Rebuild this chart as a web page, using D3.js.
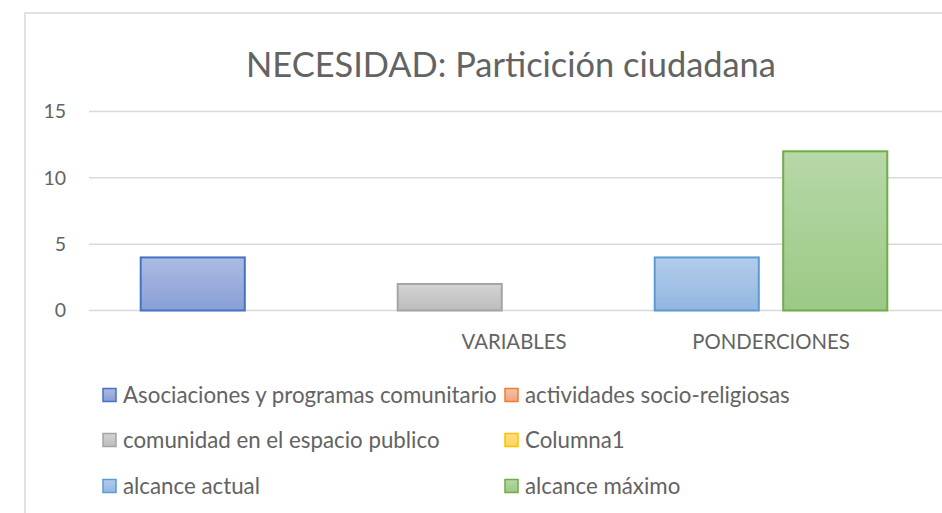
<!DOCTYPE html>
<html><head><meta charset="utf-8">
<script src="https://cdn.jsdelivr.net/npm/d3@7"></script>
<style>body{margin:0;background:#fff}svg{display:block}text{font-family:Lato,"Open Sans",sans-serif;fill:#636363}</style>
</head><body>
<svg id="c" width="942" height="513"></svg>
<script>
const title = "NECESIDAD: Particición ciudadana";
const categories = ["", "VARIABLES", "PONDERCIONES"];
const seriesNames = ["Asociaciones y programas comunitario","actividades socio-religiosas","comunidad en el espacio publico","Columna1","alcance actual","alcance máximo"];
const seriesCategory = ["", "", "VARIABLES", "VARIABLES", "PONDERCIONES", "PONDERCIONES"];
const seriesValues = [4, null, 2, null, 4, 12];
const yTicks = [0, 5, 10, 15];
const strokeColors = ["#4472c4","#ed7d31","#a5a5a5","#ffc000","#5b9bd5","#70ad47"];
const topColors = ["#adbbe2","#f6c2a9","#d4d4d4","#ffe08a","#b3cdeb","#b7d8a8"];
const botColors = ["#889fd6","#f2a27d","#bcbcbc","#ffd350","#92b6e1","#9bc985"];

const svg = d3.select("#c");
const defs = svg.append("defs");
seriesNames.forEach((n,i)=>{
  const g = defs.append("linearGradient").attr("id","g"+i).attr("x1",0).attr("y1",0).attr("x2",0).attr("y2",1);
  g.append("stop").attr("offset","0%").attr("stop-color",topColors[i]);
  g.append("stop").attr("offset","100%").attr("stop-color",botColors[i]);
});

// chart frame
svg.append("rect").attr("x",25).attr("y",13).attr("width",1000).attr("height",600)
  .attr("fill","none").attr("stroke","#d9d9d9").attr("stroke-width",1.5);

const y = d3.scaleLinear().domain([0,15]).range([310.5,111.5]);
const x0 = d3.scaleBand().domain(categories).range([128.5,899.5]).padding(0);
const x1 = d3.scaleBand().domain([0,1]).range([0,x0.bandwidth()]).paddingInner(0.19).paddingOuter(0.095);

// gridlines
svg.append("g").selectAll("line").data(yTicks).join("line")
  .attr("x1",89).attr("x2",942).attr("y1",d=>y(d)).attr("y2",d=>y(d))
  .attr("stroke","#d9d9d9").attr("stroke-width",1.5);

// y axis labels
svg.append("g").selectAll("text").data(yTicks).join("text")
  .attr("x",66).attr("y",d=>y(d)).attr("dy","0.35em").attr("text-anchor","end")
  .attr("font-size",19.5).text(d=>d);

// bars
const barData = seriesNames.map((n,i)=>({i, cat:seriesCategory[i], slot:i%2, v:seriesValues[i]})).filter(d=>d.v!=null);
svg.append("g").selectAll("rect").data(barData).join("rect")
  .attr("x",d=>x0(d.cat)+x1(d.slot))
  .attr("width",x1.bandwidth())
  .attr("y",d=>y(d.v)).attr("height",d=>y(0)-y(d.v))
  .attr("fill",d=>"url(#g"+d.i+")").attr("stroke",d=>strokeColors[d.i]).attr("stroke-width",2);

// category labels
const cl = svg.append("g").selectAll("text").data(categories).join("text")
  .attr("x",d=>x0(d)+x0.bandwidth()/2).attr("y",349).attr("text-anchor","middle")
  .attr("font-size",18).text(d=>d);
const cw = cl.nodes()[1].getComputedTextLength();
cl.attr("font-size",18*105/cw);

// title
const t = svg.append("text").attr("x",511).attr("y",77).attr("text-anchor","middle").attr("font-size",32).text(title);
const tw = t.node().getComputedTextLength();
t.attr("font-size",32*530/tw);

// legend
const legX = [103,505], legY = [395,440,486];
const lg = svg.append("g").selectAll("g").data(seriesNames).join("g")
  .attr("transform",(d,i)=>`translate(${legX[i%2]},${legY[Math.floor(i/2)]})`);
lg.append("rect").attr("x",0).attr("y",-6.5).attr("width",13).attr("height",13)
  .attr("fill",(d,i)=>"url(#g"+i+")").attr("stroke",(d,i)=>strokeColors[i]).attr("stroke-width",1.5);
const lt = lg.append("text").attr("x",20).attr("y",0).attr("dy","0.35em").attr("font-size",19).text(d=>d);
const w0 = lt.nodes()[0].getComputedTextLength();
const fs = 19*374/w0;
lt.attr("font-size",fs);
</script>
</body></html>
